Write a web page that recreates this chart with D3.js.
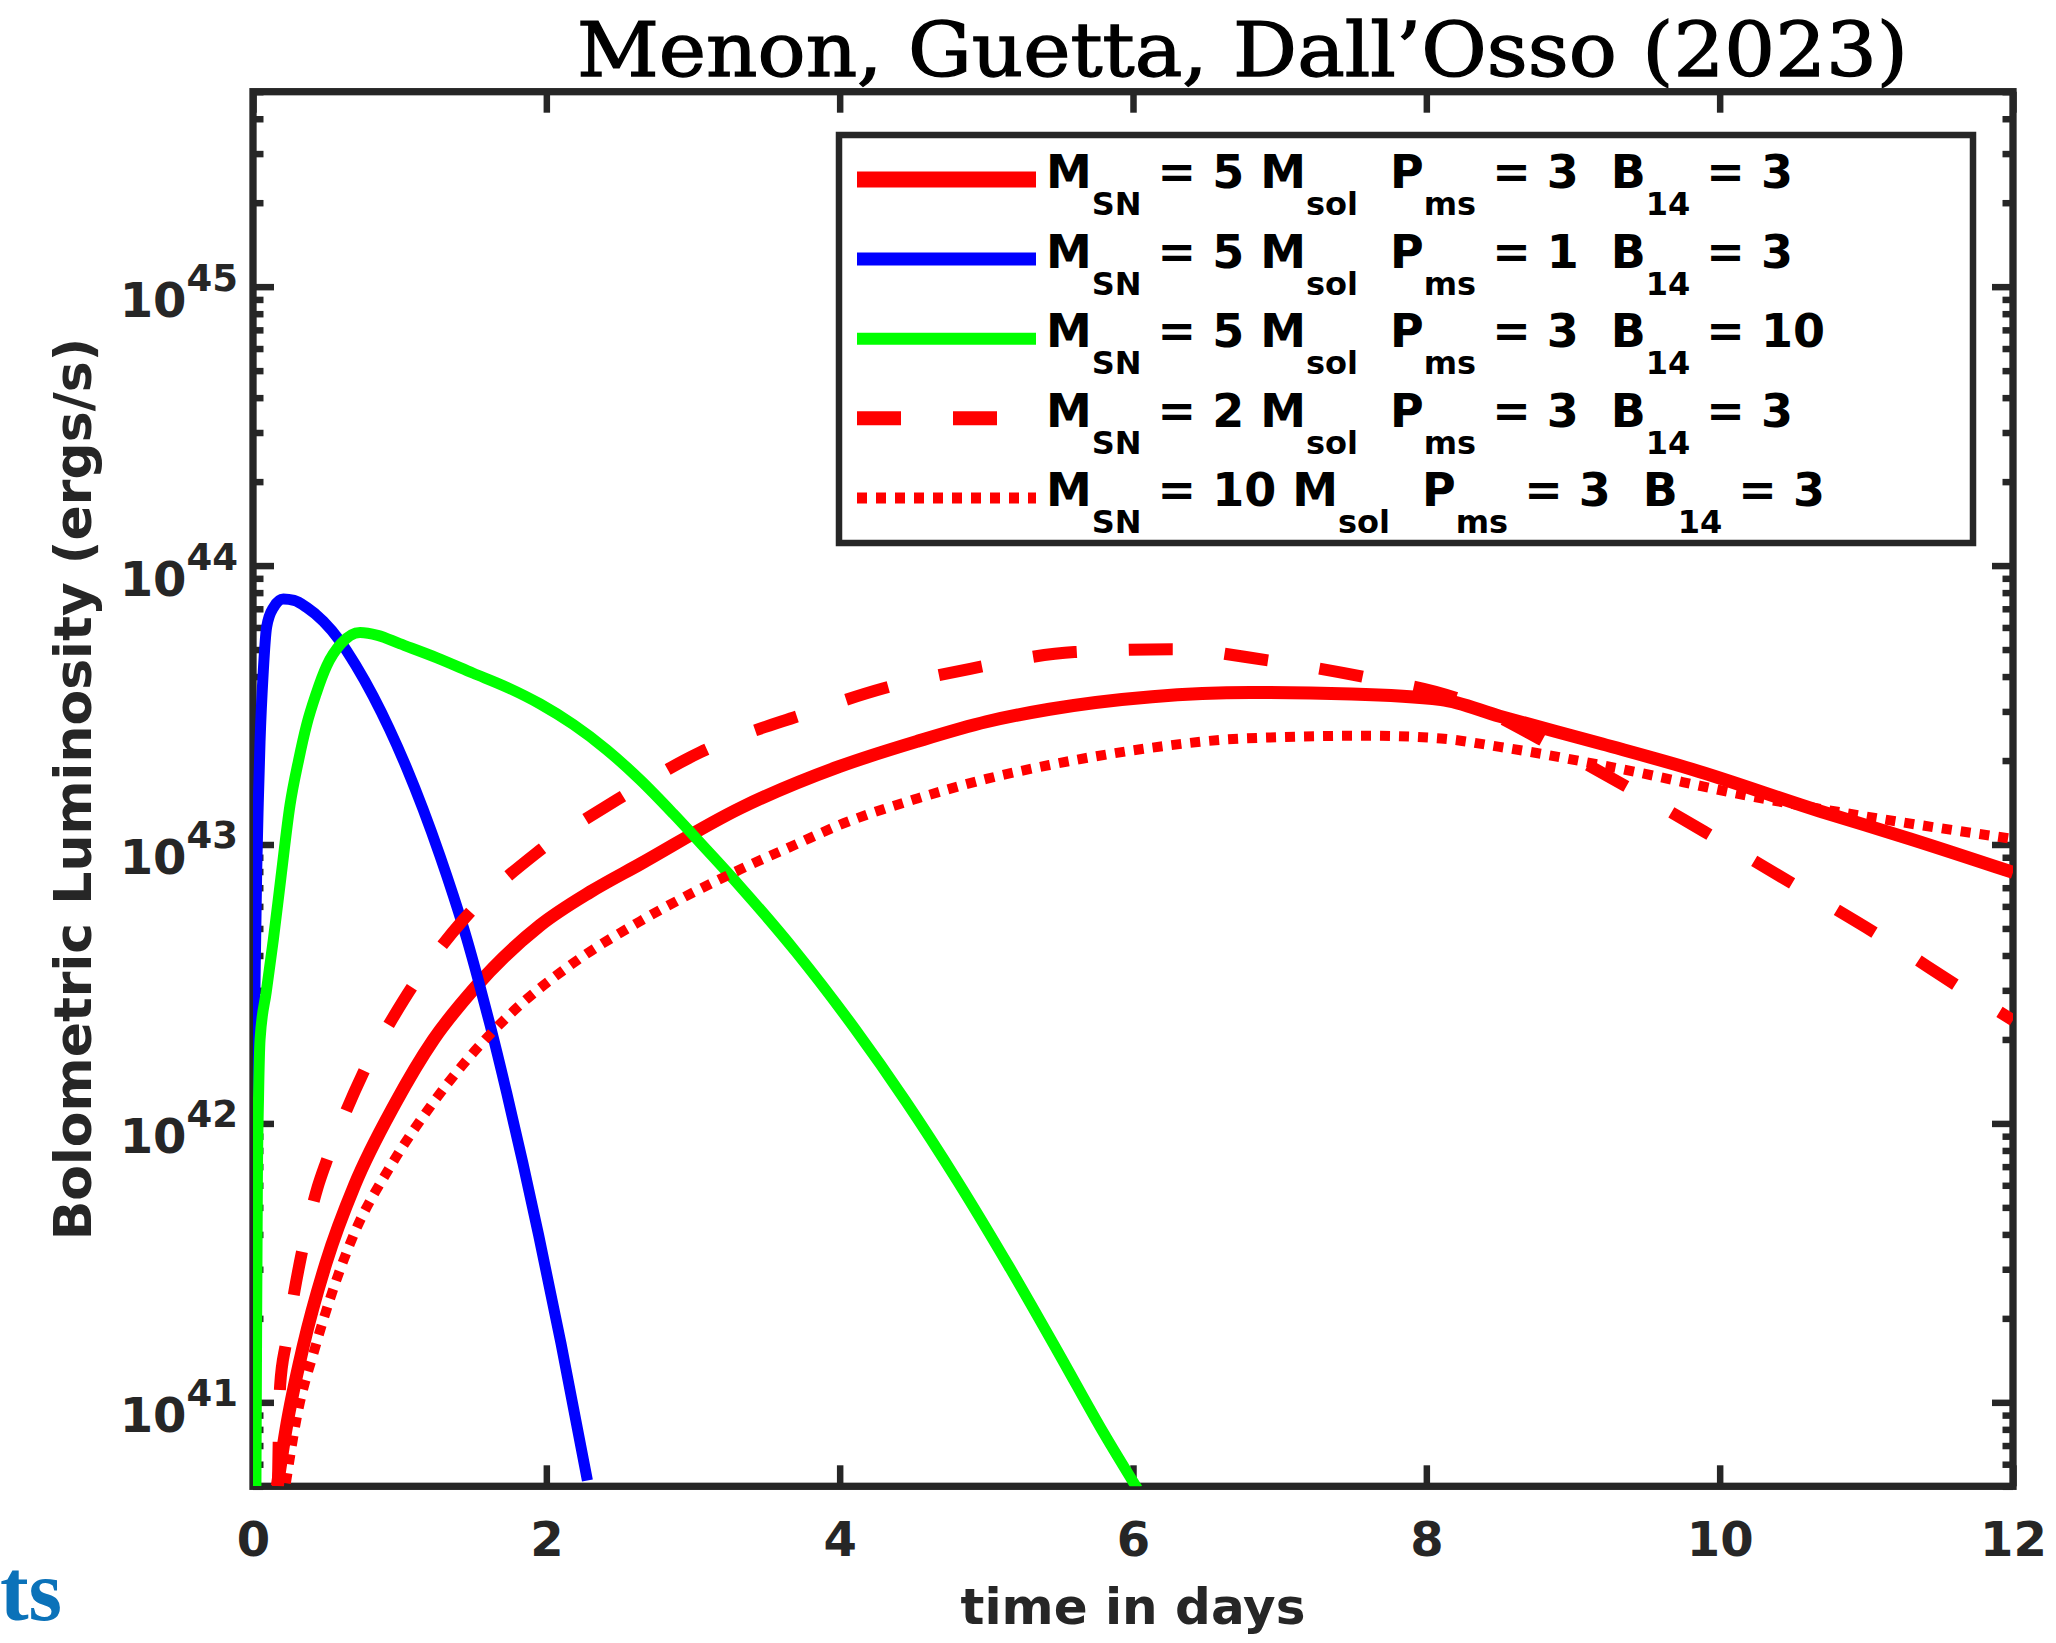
<!DOCTYPE html>
<html>
<head>
<meta charset="utf-8">
<script src="https://cdn.jsdelivr.net/npm/d3@7"></script>
<style>
  html, body { margin: 0; padding: 0; background: #fff; }
  svg { display: block; }
  text { white-space: pre; }
</style>
</head>
<body>
<svg id="chart" width="2056" height="1643"></svg>
<script>
// Light curves of magnetar-powered supernovae: time in days vs log10 of bolometric luminosity (erg/s)

// M_SN = 5 M_sol, P_ms = 3, B_14 = 3 (solid red)
const tA = [0.166, 0.224, 0.342, 0.498, 0.694, 0.968, 1.23, 1.502, 1.957, 2.3, 2.64, 3.32, 4.0, 4.53, 5.0, 5.43, 6.13, 6.8, 7.49, 8.1, 8.5, 9.2, 9.81, 10.68, 11.3, 12.0];
const logLA = [40.70, 40.90, 41.20, 41.50, 41.78, 42.07, 42.30, 42.48, 42.71, 42.83, 42.93, 43.13, 43.28, 43.37, 43.44, 43.485, 43.53, 43.545, 43.54, 43.52, 43.46, 43.36, 43.27, 43.12, 43.02, 42.90];

// M_SN = 5 M_sol, P_ms = 1, B_14 = 3 (blue)
const tB = [0.0, 0.003, 0.008, 0.015, 0.025, 0.036, 0.048, 0.07, 0.093, 0.14, 0.207, 0.28, 0.366, 0.48, 0.593, 0.7, 0.82, 0.93, 1.048, 1.16, 1.275, 1.365, 1.457, 1.54, 1.616, 1.73, 1.84, 1.947, 2.10, 2.28];
const logLB = [40.70, 41.60, 42.20, 42.55, 42.90, 43.15, 43.37, 43.62, 43.78, 43.85, 43.88, 43.875, 43.85, 43.80, 43.73, 43.643, 43.531, 43.414, 43.274, 43.126, 42.959, 42.818, 42.663, 42.506, 42.354, 42.109, 41.858, 41.601, 41.211, 40.72];

// M_SN = 5 M_sol, P_ms = 3, B_14 = 10 (green)
const tC = [0.02, 0.025, 0.03, 0.038, 0.048, 0.09, 0.139, 0.19, 0.252, 0.31, 0.366, 0.43, 0.502, 0.6, 0.73, 0.85, 1.0, 1.25, 1.502, 1.73, 1.957, 2.184, 2.411, 2.639, 2.866, 3.093, 3.32, 3.7, 4.1, 4.45, 4.8, 5.15, 5.5, 5.8, 6.03];
const logLC = [40.70, 41.30, 41.80, 42.10, 42.30, 42.47, 42.66, 42.88, 43.14, 43.30, 43.43, 43.54, 43.64, 43.72, 43.76, 43.75, 43.72, 43.67, 43.614, 43.564, 43.504, 43.43, 43.34, 43.232, 43.11, 42.981, 42.85, 42.616, 42.342, 42.08, 41.796, 41.491, 41.17, 40.89, 40.69];

// M_SN = 2 M_sol, P_ms = 3, B_14 = 3 (dashed red)
const tD = [0.17, 0.185, 0.224, 0.283, 0.342, 0.44, 0.498, 0.6, 0.75, 1.025, 1.434, 1.934, 2.48, 3.048, 3.77, 4.3, 4.89, 5.6, 6.27, 6.92, 7.58, 8.23, 8.84, 9.39, 9.98, 10.56, 11.13, 11.69, 12.0];
const logLD = [40.70, 41.06, 41.21, 41.40, 41.56, 41.77, 41.86, 42.00, 42.18, 42.44, 42.73, 42.97, 43.16, 43.33, 43.47, 43.56, 43.63, 43.69, 43.70, 43.66, 43.60, 43.52, 43.36, 43.20, 43.02, 42.84, 42.66, 42.47, 42.37];

// M_SN = 10 M_sol, P_ms = 3, B_14 = 3 (dotted red)
const tE = [0.224, 0.30, 0.42, 0.537, 0.694, 0.93, 1.222, 1.73, 2.184, 2.64, 3.32, 3.7, 4.0, 4.53, 5.0, 5.43, 6.1, 6.75, 7.62, 8.1, 8.5, 9.24, 10.24, 11.12, 12.0];
const logLE = [40.71, 40.95, 41.19, 41.39, 41.61, 41.84, 42.07, 42.38, 42.575, 42.725, 42.91, 43.00, 43.07, 43.165, 43.235, 43.285, 43.345, 43.38, 43.39, 43.38, 43.35, 43.28, 43.17, 43.09, 43.02];

// legend parameters for each curve
const legendMass = [5, 5, 5, 2, 10];
const legendPeriod = [3, 1, 3, 3, 3];
const legendField = [3, 3, 10, 3, 3];

// axis ticks
const xTicks = [0, 2, 4, 6, 8, 10, 12];
const yDecades = [41, 42, 43, 44, 45];
const xDomain = [0, 12];
const yDomain = [5e40, 5e45];

const series = [
  { t: tA, logL: logLA, color: "#ff0000", width: 13, dash: null,    legendWidth: 16 },
  { t: tB, logL: logLB, color: "#0000ff", width: 11, dash: null,    legendWidth: 13 },
  { t: tC, logL: logLC, color: "#00ff00", width: 11, dash: null,    legendWidth: 12 },
  { t: tD, logL: logLD, color: "#ff0000", width: 12, dash: "44 52", legendWidth: 14 },
  { t: tE, logL: logLE, color: "#ff0000", width: 10, dash: "10 9",  legendWidth: 11 }
];

const L = 253, R = 2013, T = 91.7, B = 1486.3;
const axisColor = "#262626";
const font = "'DejaVu Sans', sans-serif";

const svg = d3.select("#chart");
const x = d3.scaleLinear().domain(xDomain).range([L, R]);
const y = d3.scaleLog().domain(yDomain).range([B, T]);

// title
svg.append("text")
  .attr("x", 577).attr("y", 76)
  .attr("textLength", 1331).attr("lengthAdjust", "spacingAndGlyphs")
  .attr("font-family", "'DejaVu Serif', serif")
  .attr("font-size", 74)
  .attr("fill", "#000")
  .attr("stroke", "#000").attr("stroke-width", 1.3)
  .text("Menon, Guetta, Dall\u2019Osso (2023)");

// minor tick values on the log axis
const minorTicks = [];
for (let e = 40; e <= 45; e++) {
  for (let m = 2; m <= 9; m++) {
    const v = m * Math.pow(10, e);
    if (v >= yDomain[0] && v <= yDomain[1]) minorTicks.push(v);
  }
}
const majorTicks = yDecades.map(k => Math.pow(10, k));

function styleAxis(g) {
  g.select(".domain").remove();
  g.selectAll(".tick line").attr("stroke", axisColor).attr("stroke-width", 6.5);
}

// bottom axis with labels
svg.append("g").attr("transform", `translate(0,${B})`)
  .call(d3.axisBottom(x).tickValues(xTicks).tickSize(-21).tickSizeOuter(0).tickPadding(36).tickFormat(d3.format("d")))
  .call(styleAxis)
  .call(g => g.selectAll(".tick text")
    .attr("font-family", font).attr("font-weight", "bold")
    .attr("font-size", 48).attr("fill", axisColor));

// top axis
svg.append("g").attr("transform", `translate(0,${T})`)
  .call(d3.axisTop(x).tickValues(xTicks).tickSize(-21).tickSizeOuter(0).tickFormat(""))
  .call(styleAxis);

// left and right axes: major and minor ticks
[[d3.axisLeft, L], [d3.axisRight, R]].forEach(([axisFn, pos]) => {
  svg.append("g").attr("transform", `translate(${pos},0)`)
    .call(axisFn(y).tickValues(majorTicks).tickSize(-21).tickSizeOuter(0).tickFormat(""))
    .call(styleAxis);
  svg.append("g").attr("transform", `translate(${pos},0)`)
    .call(axisFn(y).tickValues(minorTicks).tickSize(-10.5).tickSizeOuter(0).tickFormat(""))
    .call(styleAxis);
});

// y tick labels as powers of ten
yDecades.forEach(k => {
  const yy = y(Math.pow(10, k));
  const t = svg.append("text")
    .attr("x", 238).attr("y", yy + 30)
    .attr("text-anchor", "end")
    .attr("font-family", font).attr("font-weight", "bold")
    .attr("fill", axisColor);
  t.append("tspan").attr("font-size", 48).text("10");
  t.append("tspan").attr("font-size", 37).attr("dy", -26).text(String(k));
});

// axis box
svg.append("rect")
  .attr("x", L).attr("y", T).attr("width", R - L).attr("height", B - T)
  .attr("fill", "none").attr("stroke", axisColor).attr("stroke-width", 7.3);

// axis labels
svg.append("text")
  .attr("x", (L + R) / 2).attr("y", 1624)
  .attr("text-anchor", "middle")
  .attr("font-family", font).attr("font-weight", "bold")
  .attr("font-size", 50).attr("fill", axisColor)
  .text("time in days");

svg.append("text")
  .attr("transform", `translate(91,${(T + B) / 2}) rotate(-90)`)
  .attr("text-anchor", "middle")
  .attr("font-family", font).attr("font-weight", "bold")
  .attr("font-size", 52).attr("fill", axisColor)
  .text("Bolometric Luminosity (ergs/s)");

// curves
svg.append("clipPath").attr("id", "plotClip")
  .append("rect").attr("x", L).attr("y", T).attr("width", R - L).attr("height", B - T);

const line = d3.line()
  .x(d => x(d[0]))
  .y(d => y(Math.pow(10, d[1])))
  .curve(d3.curveMonotoneX);

const plot = svg.append("g").attr("clip-path", "url(#plotClip)");
series.forEach(s => {
  const pts = s.t.map((t, i) => [t, s.logL[i]]);
  plot.append("path")
    .attr("d", line(pts))
    .attr("fill", "none")
    .attr("stroke", s.color)
    .attr("stroke-width", s.width)
    .attr("stroke-linejoin", "round")
    .attr("stroke-dasharray", s.dash);
});

// legend
const lg = svg.append("g");
lg.append("rect")
  .attr("x", 839).attr("y", 135).attr("width", 1134).attr("height", 408)
  .attr("fill", "#fff").attr("stroke", axisColor).attr("stroke-width", 6.5);

const rowGap = 79.6;
series.forEach((s, i) => {
  const base = 188 + i * rowGap;
  lg.append("line")
    .attr("x1", 857).attr("x2", 1036)
    .attr("y1", base - 8.5).attr("y2", base - 8.5)
    .attr("stroke", s.color).attr("stroke-width", s.legendWidth)
    .attr("stroke-dasharray", s.dash);

  const txt = lg.append("text")
    .attr("x", 1046).attr("y", base)
    .attr("font-family", font).attr("font-weight", "bold")
    .attr("fill", "#000");
  const big = 46, small = 32, drop = 27;
  const parts = [
    ["M", big, 0],
    ["SN", small, drop],
    [` = ${legendMass[i]} M`, big, -drop],
    ["sol", small, drop],
    ["  P", big, -drop],
    ["ms", small, drop],
    [` = ${legendPeriod[i]}  B`, big, -drop],
    ["14", small, drop],
    [` = ${legendField[i]}`, big, -drop]
  ];
  parts.forEach(([str, size, dy]) => {
    txt.append("tspan").attr("font-size", size).attr("dy", dy).text(str);
  });
});

// partial word at the lower left edge
svg.append("text")
  .attr("x", 62).attr("y", 1620)
  .attr("text-anchor", "end")
  .attr("font-family", "'Liberation Serif', serif").attr("font-weight", "bold")
  .attr("font-size", 86).attr("fill", "#0b72b9")
  .text("ts");
</script>
</body>
</html>
